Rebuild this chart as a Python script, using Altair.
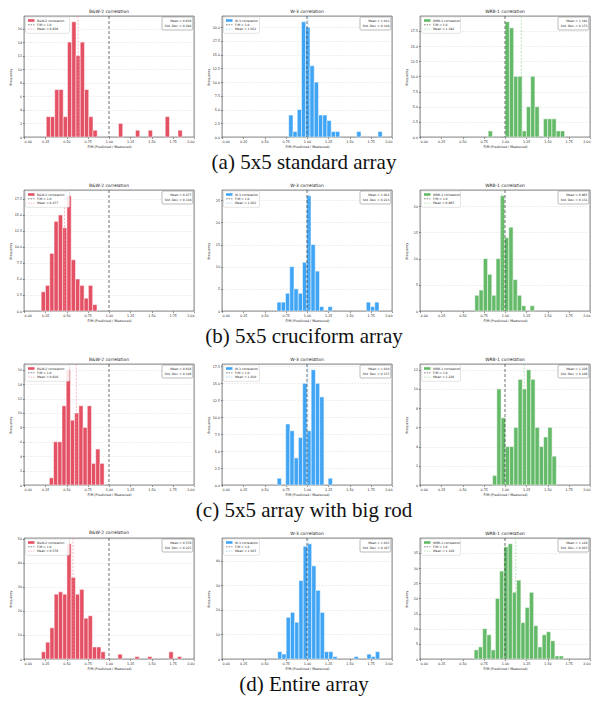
import altair as alt
import pandas as pd

# ---------------- data ----------------
SERIES = ["B&W-2", "W-3", "WRB-1"]
CAPTIONS = ["(a) 5x5 standard array", "(b) 5x5 cruciform array",
            "(c) 5x5 array with big rod", "(d) Entire array"]
X_TICKS = [0.0, 0.25, 0.5, 0.75, 1.0, 1.25, 1.5, 1.75, 2.0]
REF_FM = 1.0

# (a) standard array: first bin edge, bin width, counts
a_bw2_start, a_bw2_width = 0.2615, 0.05
a_bw2_counts = [3, 3, 7, 7, 3, 14, 17, 12, 14, 7, 3, 1, 0, 0, 0, 0, 0, 2, 0, 0, 0,
                1, 0, 0, 1, 0, 0, 0, 3, 0, 0, 1]
a_w3_start, a_w3_width = 0.785, 0.05
a_w3_counts = [4, 1, 5, 21, 20, 13, 10, 4, 4, 3, 1, 1, 0, 0, 0, 0, 1, 0, 0, 0, 0, 1]
a_wrb1_start, a_wrb1_width = 0.802, 0.05
a_wrb1_counts = [1, 0, 0, 0, 19, 18, 10, 10, 1, 5, 10, 5, 0, 3, 3, 3, 1, 1]

# (b) cruciform array
b_bw2_start, b_bw2_width = 0.202, 0.0505
b_bw2_counts = [3, 4, 9, 14, 15, 13, 18, 8, 5, 4, 2, 4, 1]
b_w3_start, b_w3_width = 0.647, 0.05
b_w3_counts = [2, 2, 4, 10, 5, 4, 11, 26, 15, 9, 1, 0, 1, 0, 0, 0, 0, 0, 0, 0, 0,
               2, 1, 2]
b_wrb1_start, b_wrb1_width = 0.645, 0.05
b_wrb1_counts = [3, 4, 10, 7, 3, 10, 22, 14, 16, 6, 3, 1, 0, 1]

# (c) array with big rod
c_bw2_start, c_bw2_width = 0.298, 0.0496
c_bw2_counts = [1, 6, 6, 11, 16, 9, 10, 11, 8, 11, 3, 5, 3]
c_w3_start, c_w3_width = 0.649, 0.05
c_w3_counts = [1, 0, 9, 8, 4, 7, 15, 8, 17, 15, 13, 0, 1]
c_wrb1_start, c_wrb1_width = 0.854, 0.05
c_wrb1_counts = [1, 10, 7, 4, 4, 6, 11, 10, 12, 11, 6, 4, 5, 6, 3]

# (d) entire array
d_bw2_start, d_bw2_width = 0.205, 0.05
d_bw2_counts = [3, 7, 13, 27, 28, 27, 48, 34, 27, 29, 17, 18, 5, 5, 3, 0, 0, 0, 2,
                0, 0, 0, 1, 0, 0, 1, 0, 0, 0, 0, 3, 0, 1]
d_w3_start, d_w3_width = 0.655, 0.05
d_w3_counts = [3, 2, 17, 19, 15, 32, 46, 47, 38, 28, 19, 3, 3, 1, 0, 0, 0, 0, 1,
               0, 0, 2, 1, 3]
d_wrb1_start, d_wrb1_width = 0.637, 0.05
d_wrb1_counts = [3, 4, 10, 8, 3, 20, 29, 37, 38, 22, 26, 12, 17, 22, 11, 4, 8, 9,
                 6, 1, 1]

MEANS = [[0.636, 1.012, 1.192], [0.477, 1.022, 0.965],
         [0.616, 1.010, 1.226], [0.576, 1.015, 1.126]]
STDS = [[0.294, 0.148, 0.173], [0.138, 0.213, 0.131],
        [0.146, 0.137, 0.186], [0.215, 0.167, 0.203]]
Y_STEPS = [[2, 2.5, 2.5], [2.5, 5, 5], [2, 2.5, 2], [10, 10, 5]]

HIST = [
    [(a_bw2_start, a_bw2_width, a_bw2_counts), (a_w3_start, a_w3_width, a_w3_counts),
     (a_wrb1_start, a_wrb1_width, a_wrb1_counts)],
    [(b_bw2_start, b_bw2_width, b_bw2_counts), (b_w3_start, b_w3_width, b_w3_counts),
     (b_wrb1_start, b_wrb1_width, b_wrb1_counts)],
    [(c_bw2_start, c_bw2_width, c_bw2_counts), (c_w3_start, c_w3_width, c_w3_counts),
     (c_wrb1_start, c_wrb1_width, c_wrb1_counts)],
    [(d_bw2_start, d_bw2_width, d_bw2_counts), (d_w3_start, d_w3_width, d_w3_counts),
     (d_wrb1_start, d_wrb1_width, d_wrb1_counts)],
]

# ---------------- style ----------------
BAR_COLORS = {"B&W-2": "#e0344a", "W-3": "#2196f3", "WRB-1": "#4caf50"}
MEAN_COLORS = {"B&W-2": "#f28b97", "W-3": "#7cc4f4", "WRB-1": "#8fd48f"}
LEGEND_W = {"B&W-2": 44, "W-3": 36, "WRB-1": 39}
FONT = "DejaVu Sans"
W, H = 170, 121
TXT = "#222222"
BAR_OPACITY = 0.86


def panel(r, c):
    name = SERIES[c]
    start, width, counts = HIST[r][c]
    lo = [start + i * width for i in range(len(counts))]
    df = pd.DataFrame({"x": lo, "x_hi": [v + width for v in lo],
                       "count": counts, "base": [0] * len(counts)})
    df = df[df["count"] > 0]
    ymax = max(counts) * 1.05
    step = Y_STEPS[r][c]
    n = int(ymax // step)
    yticks = [k * step for k in range(n + 1)]
    fmt = ".1f" if step % 1 else "d"

    xs = alt.Scale(domain=[0, 2], nice=False, zero=False)
    ys = alt.Scale(domain=[0, ymax], nice=False)
    xaxis = alt.Axis(values=X_TICKS, format=".2f",
                     title="F/M (Predicted / Measured)", grid=False)
    yaxis = alt.Axis(values=yticks, format=fmt, title="Frequency", grid=True)
    xenc = alt.X("x:Q", scale=xs, axis=xaxis)

    bars = alt.Chart(df).mark_rect(
        fill=BAR_COLORS[name], fillOpacity=BAR_OPACITY, stroke="white",
        strokeWidth=0.5
    ).encode(x=xenc, x2="x_hi:Q",
             y=alt.Y("count:Q", scale=ys, axis=yaxis), y2="base:Q")

    fm_rule = alt.Chart(pd.DataFrame({"x": [REF_FM]})).mark_rule(
        color="#333333", strokeDash=[3, 2], strokeWidth=0.7).encode(x=xenc)
    mean_rule = alt.Chart(pd.DataFrame({"x": [MEANS[r][c]]})).mark_rule(
        color=MEAN_COLORS[name], strokeDash=[2, 1.5], strokeWidth=0.6).encode(x=xenc)

    one = pd.DataFrame({"k": [0]})
    lw = LEGEND_W[name]
    leg_box = alt.Chart(one).mark_rect(
        fill="white", fillOpacity=0.85, stroke="#c8c8c8", strokeWidth=0.5,
        cornerRadius=1.2).encode(x=alt.value(1.5), x2=alt.value(1.5 + lw),
                                 y=alt.value(1), y2=alt.value(17.3))
    leg_sym = alt.Chart(one).mark_rect(
        fill=BAR_COLORS[name], fillOpacity=BAR_OPACITY).encode(
        x=alt.value(4), x2=alt.value(10.5), y=alt.value(3.2), y2=alt.value(5.8))
    leg_fm = alt.Chart(one).mark_rule(
        color="#333333", strokeDash=[1.6, 1], strokeWidth=0.6).encode(
        x=alt.value(4), x2=alt.value(10.5), y=alt.value(8.8))
    leg_mean = alt.Chart(one).mark_rule(
        color=MEAN_COLORS[name], strokeDash=[1.6, 1], strokeWidth=0.6).encode(
        x=alt.value(4), x2=alt.value(10.5), y=alt.value(13.1))
    leg_labels = [f"{name} correlation", f"F/M = {REF_FM:.1f}",
                  f"Mean = {MEANS[r][c]:.3f}"]
    leg_texts = [
        alt.Chart(one).mark_text(text=t, align="left", baseline="middle",
                                 fontSize=3.0, font=FONT, color=TXT).encode(
            x=alt.value(13), y=alt.value(yy))
        for t, yy in zip(leg_labels, [4.5, 8.8, 13.1])
    ]

    st_box = alt.Chart(one).mark_rect(
        fill="white", fillOpacity=0.85, stroke="#777777", strokeWidth=0.5,
        cornerRadius=1.2).encode(x=alt.value(W - 32), x2=alt.value(W - 1.2),
                                 y=alt.value(1), y2=alt.value(14))
    st_labels = [f"Mean = {MEANS[r][c]:.3f}", f"Std. Dev. = {STDS[r][c]:.3f}"]
    st_texts = [
        alt.Chart(one).mark_text(text=t, align="right", baseline="middle",
                                 fontSize=3.0, font=FONT, color=TXT).encode(
            x=alt.value(W - 2.6), y=alt.value(yy))
        for t, yy in zip(st_labels, [5.0, 10.0])
    ]

    layers = [bars, fm_rule, mean_rule, leg_box, leg_sym, leg_fm, leg_mean,
              *leg_texts, st_box, *st_texts]
    if c == 1:
        cap = alt.Chart(one).mark_text(
            text=CAPTIONS[r], align="center", baseline="middle",
            font="Liberation Serif", fontSize=21, color="#111111").encode(
            x=alt.value(W / 2 - 3), y=alt.value(H + 26))
        layers.append(cap)

    return alt.layer(*layers).properties(
        width=W, height=H,
        title=alt.Title(f"{name} correlation", fontSize=4.4, font=FONT,
                        fontWeight="normal", color=TXT, offset=1.5))


panels = [panel(r, c) for r in range(4) for c in range(3)]

chart = alt.concat(
    *panels, columns=3, bounds="flush", spacing={"row": 53, "column": 28}
).resolve_scale(x="independent", y="independent").properties(
    padding=0
).configure_view(
    stroke="#222222", strokeWidth=0.6
).configure_axis(
    domain=False, tickColor=TXT, tickSize=1.5, tickWidth=0.5,
    labelFontSize=3.3, titleFontSize=3.3, labelFont=FONT, titleFont=FONT,
    labelColor=TXT, titleColor=TXT, titleFontWeight="normal",
    labelPadding=1, titlePadding=1.5,
    gridColor="#c8c8c8", gridDash=[1.5, 1.5], gridWidth=0.4
).configure_axisY(minExtent=10, maxExtent=10)

chart.save("out.html", embed_options={"renderer": "svg", "actions": False})
